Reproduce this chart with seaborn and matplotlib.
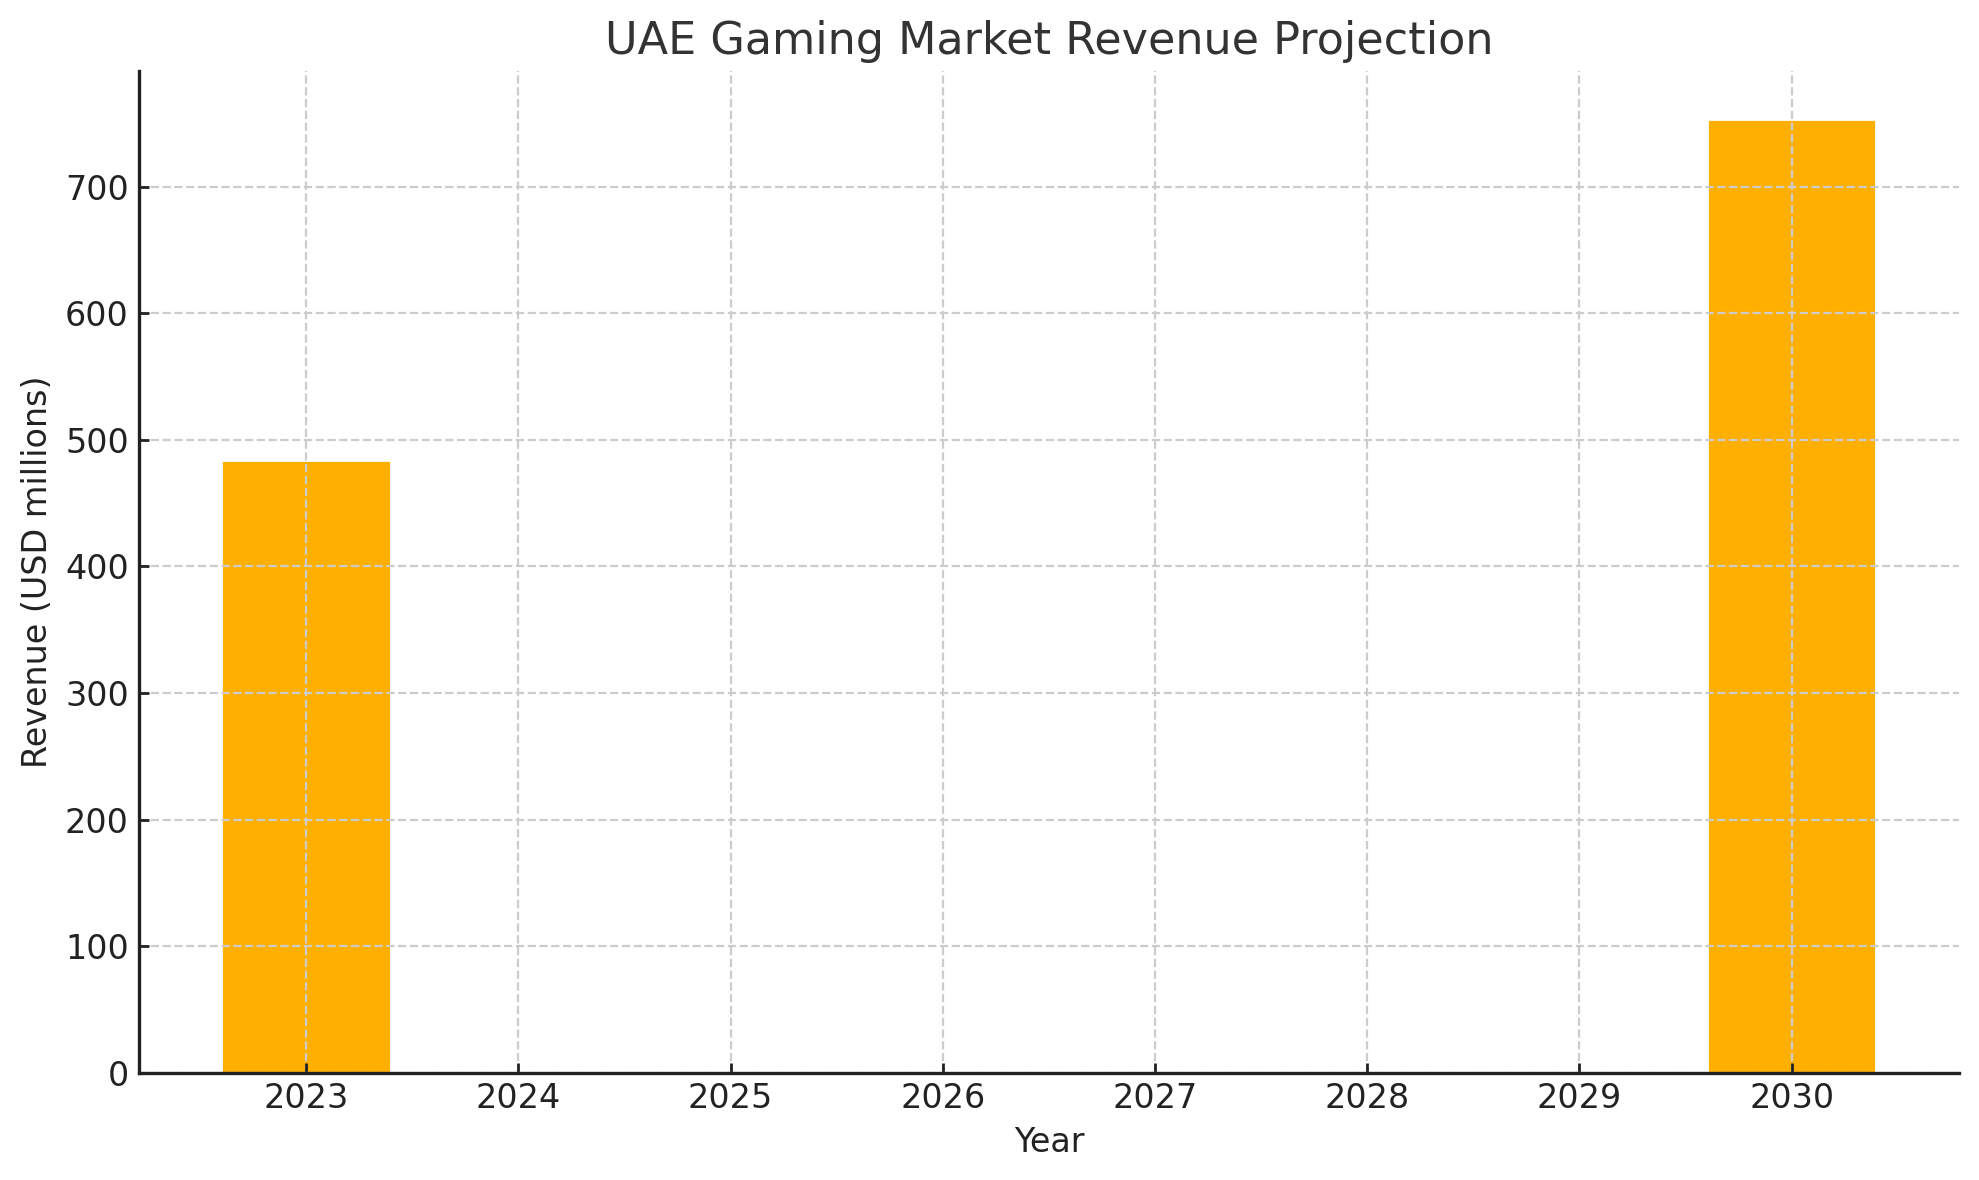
import matplotlib
matplotlib.use('Agg')
import matplotlib.pyplot as plt
import seaborn as sns
import pandas as pd

# Datos
years = [2023, 2030]
revenue = [484, 754]
year_ticks = [2023, 2024, 2025, 2026, 2027, 2028, 2029, 2030]

BAR_COLOR = '#FFAF00'


def main():
    sns.set_theme(style="white")
    plt.rcParams['font.family'] = ['DejaVu Sans']

    df = pd.DataFrame({'Year': years, 'Revenue': revenue})

    fig, ax = plt.subplots(figsize=(9.895, 5.9), dpi=200)
    # Eje categórico con todos los años; sólo 2023 y 2030 tienen barra
    sns.barplot(data=df, x='Year', y='Revenue', order=year_ticks, width=0.8,
                color=BAR_COLOR, saturation=1, ax=ax)

    n = len(year_ticks)
    pad = 0.05 * (n - 1 + 0.8)
    ax.set_xlim(-0.4 - pad, n - 1 + 0.4 + pad)
    ax.set_ylim(0, max(revenue) * 1.05)

    ax.tick_params(axis='both', labelsize=12, colors='#222222', direction='in',
                   length=3.5, width=1, pad=3.5, bottom=True, left=True)

    ax.grid(True, linestyle='--', color='#cccccc', linewidth=0.8)
    ax.set_axisbelow(False)

    for side in ['top', 'right']:
        ax.spines[side].set_visible(False)
    for side in ['left', 'bottom']:
        ax.spines[side].set_color('#222222')
        ax.spines[side].set_linewidth(1.2)
        ax.spines[side].set_zorder(5)

    ax.set_title("UAE Gaming Market Revenue Projection", fontsize=16, color='#333333', pad=6)
    ax.set_xlabel("Year", fontsize=12, color='#222222')
    ax.set_ylabel("Revenue (USD millions)", fontsize=12, color='#222222')

    fig.subplots_adjust(left=0.070, right=0.990, top=0.940, bottom=0.091)
    fig.savefig('out.png', dpi=200)
    plt.close(fig)


if __name__ == '__main__':
    main()
